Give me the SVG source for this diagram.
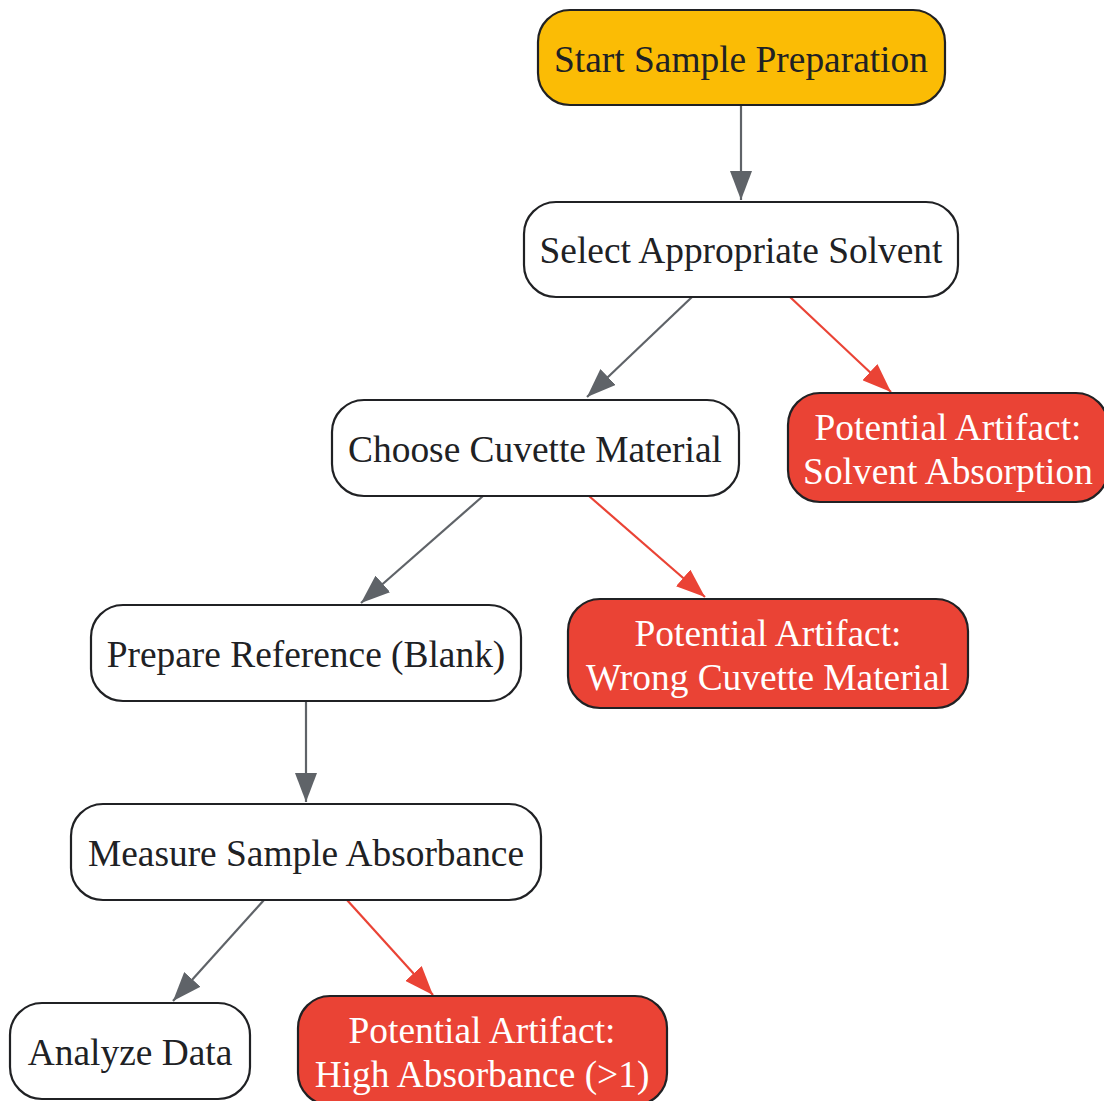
<svg xmlns="http://www.w3.org/2000/svg" width="1104" height="1101" viewBox="0 0 1104 1101">
<style>
.n{stroke:#202124;stroke-width:2.2}
.w{fill:#ffffff}
.y{fill:#FBBC05}
.r{fill:#EA4335}
text{font-family:"Liberation Serif","Times New Roman",serif;font-size:37.4px;text-anchor:middle}
.d{fill:#202124}
.l{fill:#ffffff}
.e{fill:none;stroke-width:2.2}
.g{stroke:#5F6368}
.rr{stroke:#EA4335}
</style>
<defs>
<marker id="ag" markerUnits="userSpaceOnUse" markerWidth="30" markerHeight="22" refX="29" refY="11" orient="auto"><path d="M0,0 L29,11 L0,22 Z" fill="#5F6368"/></marker>
<marker id="ar" markerUnits="userSpaceOnUse" markerWidth="30" markerHeight="22" refX="29" refY="11" orient="auto"><path d="M0,0 L29,11 L0,22 Z" fill="#EA4335"/></marker>
</defs>
<rect width="1104" height="1101" fill="#ffffff"/>
<g id="edges">
<line class="e g" x1="741" y1="105" x2="741" y2="200" marker-end="url(#ag)"/>
<line class="e g" x1="692" y1="297" x2="587" y2="397" marker-end="url(#ag)"/>
<line class="e rr" x1="790" y1="297" x2="891" y2="392" marker-end="url(#ar)"/>
<line class="e g" x1="483" y1="496" x2="361" y2="603" marker-end="url(#ag)"/>
<line class="e rr" x1="589" y1="496" x2="705" y2="597" marker-end="url(#ar)"/>
<line class="e g" x1="306" y1="701" x2="306" y2="802" marker-end="url(#ag)"/>
<line class="e g" x1="264" y1="900" x2="173" y2="1001" marker-end="url(#ag)"/>
<line class="e rr" x1="347" y1="900" x2="433" y2="995" marker-end="url(#ar)"/>
</g>
<g id="start"><rect class="n y" x="538" y="10" width="407" height="95" rx="32"/><text class="d" x="741" y="72">Start Sample Preparation</text></g>
<g id="solvent"><rect class="n w" x="524" y="202" width="434" height="95" rx="32"/><text class="d" x="741" y="263">Select Appropriate Solvent</text></g>
<g id="artifact_solvent"><rect class="n r" x="788" y="393" width="320" height="109" rx="32"/><text class="l" x="948" y="440">Potential Artifact:</text><text class="l" x="948" y="484">Solvent Absorption</text></g>
<g id="cuvette"><rect class="n w" x="332" y="400" width="407" height="96" rx="32"/><text class="d" x="535" y="462">Choose Cuvette Material</text></g>
<g id="artifact_cuvette"><rect class="n r" x="568" y="599" width="400" height="109" rx="32"/><text class="l" x="768" y="646">Potential Artifact:</text><text class="l" x="768" y="690">Wrong Cuvette Material</text></g>
<g id="blank"><rect class="n w" x="91" y="605" width="430" height="96" rx="32"/><text class="d" x="306" y="667">Prepare Reference (Blank)</text></g>
<g id="measure"><rect class="n w" x="71" y="804" width="470" height="96" rx="32"/><text class="d" x="306" y="866">Measure Sample Absorbance</text></g>
<g id="analyze"><rect class="n w" x="10" y="1003" width="240" height="96" rx="32"/><text class="d" x="130" y="1065">Analyze Data</text></g>
<g id="artifact_abs"><rect class="n r" x="298" y="996" width="369" height="109" rx="32"/><text class="l" x="482" y="1043">Potential Artifact:</text><text class="l" x="482" y="1087">High Absorbance (&gt;1)</text></g>
</svg>
